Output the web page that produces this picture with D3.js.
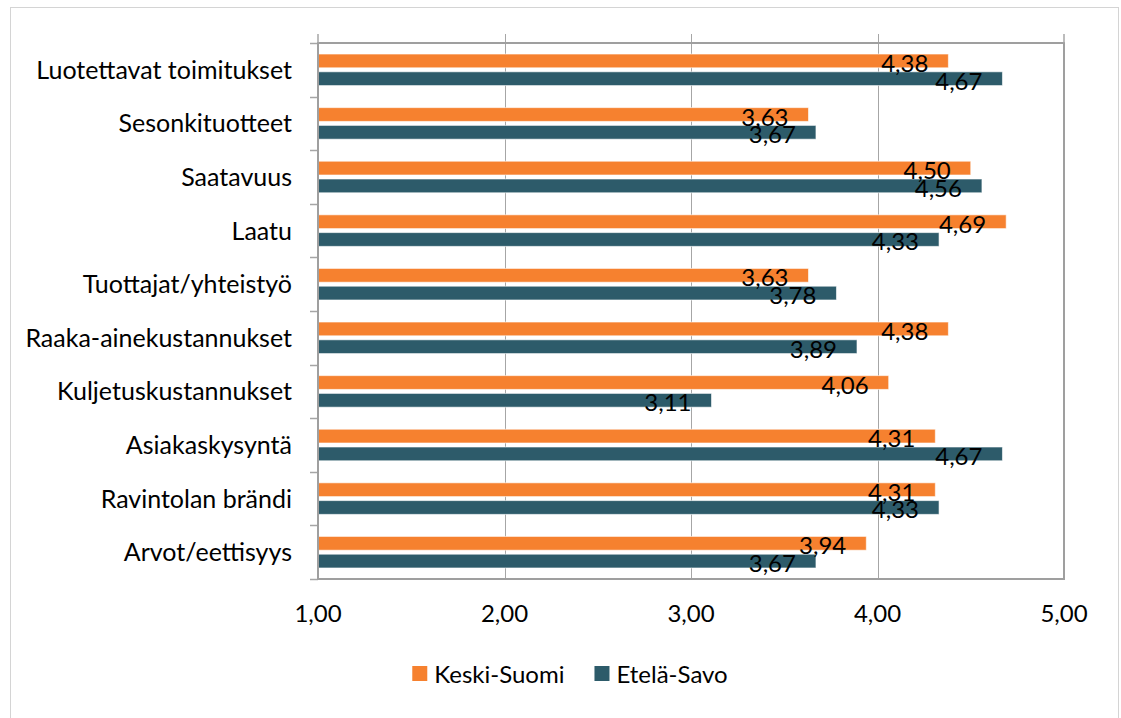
<!DOCTYPE html>
<html>
<head>
<meta charset="utf-8">
<script src="https://cdn.jsdelivr.net/npm/d3@7"></script>
<style>
  body { margin: 0; background: #fff; }
  svg { display: block; }
  text { font-family: Lato, "Open Sans", sans-serif; fill: #000; }
</style>
</head>
<body>
<script>
var w = 1121,
    h = 718;

var categories = [
  "Luotettavat toimitukset",
  "Sesonkituotteet",
  "Saatavuus",
  "Laatu",
  "Tuottajat/yhteistyö",
  "Raaka-ainekustannukset",
  "Kuljetuskustannukset",
  "Asiakaskysyntä",
  "Ravintolan brändi",
  "Arvot/eettisyys"
];
var seriesNames = ["Keski-Suomi", "Etelä-Savo"];
var keskiSuomi = [4.38, 3.63, 4.50, 4.69, 3.63, 4.38, 4.06, 4.31, 4.31, 3.94];
var etelaSavo  = [4.67, 3.67, 4.56, 4.33, 3.78, 3.89, 3.11, 4.67, 4.33, 3.67];
var xTicks = [1, 2, 3, 4, 5];
var colors = ["#f6812f", "#2d5b6a"];

var margin = {top: 43, right: 57, bottom: 139, left: 318};

var fmt = function(v) { return d3.format(".2f")(v).replace(".", ","); };

var rows = categories.map(function(c, i) {
  return {cat: c, values: [
    {key: seriesNames[0], value: keskiSuomi[i]},
    {key: seriesNames[1], value: etelaSavo[i]}
  ]};
});

var svg = d3.select("body").append("svg").attr("width", w).attr("height", h);

// outer chart border
svg.append("rect")
  .attr("x", 10.5).attr("y", 7.5)
  .attr("width", 1108).attr("height", 712)
  .attr("fill", "none").attr("stroke", "#d4d4d4").attr("stroke-width", 1);

var x = d3.scaleLinear().domain([1, 5]).range([margin.left, w - margin.right]);
var y0 = d3.scaleBand().domain(categories).range([margin.top, h - margin.bottom]);
var y1 = d3.scaleBand().domain(seriesNames).range([0, y0.bandwidth()])
  .paddingInner(0.225).paddingOuter(0.62);

var plotTop = margin.top, plotBottom = h - margin.bottom;

// vertical gridlines (extend a little above the plot)
svg.append("g").selectAll("line")
  .data(xTicks.slice(1, -1))
  .enter().append("line")
  .attr("x1", function(d) { return Math.round(x(d)) + 0.5; })
  .attr("x2", function(d) { return Math.round(x(d)) + 0.5; })
  .attr("y1", plotTop - 9).attr("y2", plotBottom)
  .attr("stroke", "#a6a6a6").attr("stroke-width", 1);

// category tick marks on the left
svg.append("g").selectAll("line")
  .data(categories.concat(["end"]))
  .enter().append("line")
  .attr("x1", margin.left - 8).attr("x2", margin.left)
  .attr("y1", function(d, i) { return Math.round(plotTop + i * y0.step()) + 0.5; })
  .attr("y2", function(d, i) { return Math.round(plotTop + i * y0.step()) + 0.5; })
  .attr("stroke", "#a6a6a6").attr("stroke-width", 1.5);

// bars
var groups = svg.append("g").selectAll("g")
  .data(rows)
  .enter().append("g")
  .attr("transform", function(d) { return "translate(0," + y0(d.cat) + ")"; });

groups.selectAll("rect")
  .data(function(d) { return d.values; })
  .enter().append("rect")
  .attr("x", x(1))
  .attr("y", function(d) { return y1(d.key); })
  .attr("width", function(d) { return x(d.value) - x(1); })
  .attr("height", y1.bandwidth())
  .attr("fill", function(d, i) { return colors[i]; })
  .attr("stroke", "#ffffff").attr("stroke-opacity", 0.6).attr("stroke-width", 1);

// value labels
groups.selectAll("text.val")
  .data(function(d) { return d.values; })
  .enter().append("text")
  .attr("class", "val")
  .attr("x", function(d) { return x(d.value) - 20; })
  .attr("y", function(d) { return y1(d.key) + y1.bandwidth() / 2 + 11; })
  .attr("text-anchor", "end")
  .style("font-size", "24px")
  .text(function(d) { return fmt(d.value); });

// plot area border
svg.append("rect")
  .attr("x", margin.left).attr("y", plotTop)
  .attr("width", x(5) - x(1)).attr("height", plotBottom - plotTop)
  .attr("fill", "none").attr("stroke", "#9f9f9f").attr("stroke-width", 2);

// left and right axis lines extend up like the gridlines
svg.append("g").selectAll("line")
  .data([xTicks[0], xTicks[xTicks.length - 1]])
  .enter().append("line")
  .attr("x1", function(d) { return x(d); })
  .attr("x2", function(d) { return x(d); })
  .attr("y1", plotTop - 9).attr("y2", plotTop)
  .attr("stroke", "#a6a6a6").attr("stroke-width", 1.5);

// category labels
svg.append("g").selectAll("text")
  .data(categories)
  .enter().append("text")
  .attr("x", margin.left - 26)
  .attr("y", function(d) { return y0(d) + y0.bandwidth() / 2 + 9; })
  .attr("text-anchor", "end")
  .style("font-size", "25px")
  .text(function(d) { return d; });

// x tick labels
svg.append("g").selectAll("text")
  .data(xTicks)
  .enter().append("text")
  .attr("x", function(d) { return x(d); })
  .attr("y", plotBottom + 43)
  .attr("text-anchor", "middle")
  .style("font-size", "24px")
  .text(function(d) { return fmt(d); });

// legend
var legend = svg.append("g");
var item = legend.selectAll("g")
  .data(seriesNames)
  .enter().append("g");
item.append("rect")
  .attr("width", 15).attr("height", 15)
  .attr("fill", function(d, i) { return colors[i]; });
item.append("text")
  .attr("x", 22).attr("y", 17)
  .style("font-size", "24px")
  .text(function(d) { return d; });

var offs = 0, widths = [];
item.each(function() { widths.push(this.getBBox().width); });
var gap = 30;
var total = d3.sum(widths) + gap * (widths.length - 1);
var startX = 570 - total / 2;
item.attr("transform", function(d, i) {
  var tx = startX + offs;
  offs += widths[i] + gap;
  return "translate(" + tx + ",666)";
});
</script>
</body>
</html>
